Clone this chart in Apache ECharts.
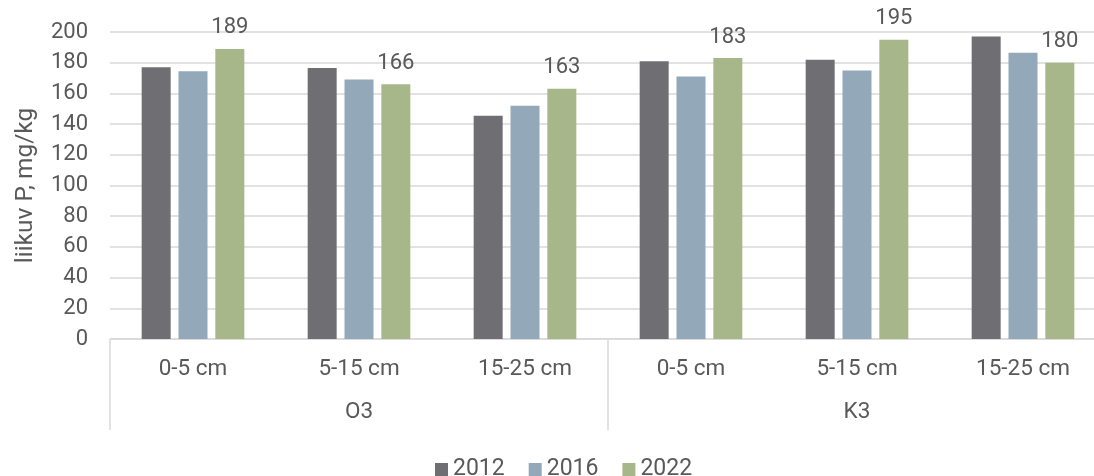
<!DOCTYPE html>
<html>
<head>
<meta charset="utf-8">
<script src="https://cdn.jsdelivr.net/npm/echarts@6/dist/echarts.min.js"></script>
<style>
  html, body { margin: 0; padding: 0; background: #fff; }
  #chart { width: 1094px; height: 476px; }
</style>
</head>
<body>
<div id="chart"></div>
<script>
// Soil depth layers within each site
const depths = ['0-5 cm', '5-15 cm', '15-25 cm', '0-5 cm', '5-15 cm', '15-25 cm'];
const sites = ['O3', 'K3'];
const years = ['2012', '2016', '2022'];

// Plant-available phosphorus, mg/kg
const p2012 = [177, 176.5, 145.5, 181, 182, 197];
const p2016 = [174.5, 169, 152, 171, 175, 186.5];
const p2022 = [189, 166, 163, 183, 195, 180];

const yTicks = { min: 0, max: 200, interval: 20 };

const colors = ['#6f6e73', '#93a8b8', '#a7b789'];
const textColor = '#595959';
const lineColor = '#d9d9d9';
const font = 'Roboto';

const chart = echarts.init(document.getElementById('chart'), null, { renderer: 'canvas' });

const seriesData = [p2012, p2016, p2022];

chart.setOption({
  animation: false,
  textStyle: { fontFamily: font },
  color: colors,
  // plot area runs slightly past the right edge of the canvas
  grid: {
    left: 110, width: 996, top: 32, height: 307,
    containLabel: false,
    outerBoundsMode: 'none'
  },
  legend: {
    top: 453,
    left: 430,
    icon: 'rect',
    itemWidth: 13,
    itemHeight: 13,
    itemGap: 24,
    textStyle: { color: textColor, fontSize: 23, fontFamily: font },
    data: years
  },
  xAxis: [
    {
      type: 'category',
      data: depths,
      position: 'bottom',
      axisLine: { show: true, lineStyle: { color: lineColor, width: 1.5 } },
      axisTick: { show: false },
      axisLabel: { color: textColor, fontSize: 22.5, margin: 19, fontFamily: font }
    },
    {
      type: 'category',
      data: sites,
      position: 'bottom',
      offset: 0,
      axisLine: { show: false },
      axisTick: { show: true, length: 91, lineStyle: { color: lineColor, width: 1.5 } },
      axisLabel: { color: textColor, fontSize: 22.5, margin: 62, fontFamily: font }
    }
  ],
  yAxis: {
    type: 'value',
    min: yTicks.min,
    max: yTicks.max,
    interval: yTicks.interval,
    name: 'liikuv P, mg/kg',
    nameLocation: 'middle',
    nameGap: 72,
    nameTextStyle: { color: textColor, fontSize: 24.5, fontFamily: font },
    axisLine: { show: false },
    axisTick: { show: false },
    axisLabel: { color: textColor, fontSize: 22, margin: 22, fontFamily: font },
    splitLine: { lineStyle: { color: lineColor, width: 1.5 } }
  },
  series: years.map((yr, i) => ({
    name: yr,
    type: 'bar',
    xAxisIndex: 0,
    data: seriesData[i],
    barWidth: 29,
    barGap: '27%',
    itemStyle: { color: colors[i] },
    label: i === 2 ? {
      show: true,
      position: 'top',
      distance: 10,
      color: textColor,
      fontSize: 22,
      fontFamily: font,
      formatter: p => Math.round(p.value)
    } : { show: false }
  }))
});
</script>
</body>
</html>
